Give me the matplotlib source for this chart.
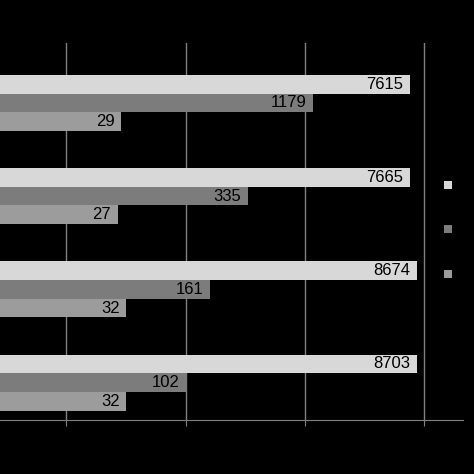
import numpy as np
import matplotlib
matplotlib.use('Agg')
import matplotlib.pyplot as plt

categories = ['A', 'B', 'C', 'D']
series_names = ['Series 1', 'Series 2', 'Series 3']
series1 = [7615, 7665, 8674, 8703]
series2 = [1179, 335, 161, 102]
series3 = [29, 27, 32, 32]
colors = ['#d8d8d8', '#7c7c7c', '#9c9c9c']

plt.rcParams['font.family'] = ['Liberation Sans', 'DejaVu Sans']

fig = plt.figure(figsize=(4.74, 4.74), dpi=100, facecolor='black')
# plot area runs off the left edge, as in the cropped original
ax = fig.add_axes([-0.112, 0.114, 1.089, 0.795], facecolor='black')

y = np.arange(len(categories))
h = 0.2
bars = []
for i, (vals, c, name) in enumerate(zip([series1, series2, series3], colors, series_names)):
    b = ax.barh(y - h + i * h, vals, height=h, color=c, label=name, zorder=2)
    bars.append(b)
    for yy, v in zip(y - h + i * h, vals):
        ax.annotate(str(v), (v, yy), xytext=(-5, 0), textcoords='offset points',
                    ha='right', va='center', fontsize=12, color='black', zorder=3)

ax.set_xscale('log')
ax.set_xlim(1, 10 ** 4.327)
ax.set_ylim(3.4, -0.64)
ax.set_yticks(y)
ax.set_yticklabels(categories)
ax.xaxis.set_major_locator(matplotlib.ticker.LogLocator(base=10, numticks=10))
ax.xaxis.set_minor_locator(matplotlib.ticker.NullLocator())
ax.xaxis.set_major_formatter(matplotlib.ticker.FuncFormatter(lambda v, p: f'{v:g}'))
# labels are black on black in the original
ax.tick_params(axis='x', direction='out', length=4, color='#808080',
               labelcolor='black', labelsize=9)
ax.tick_params(axis='y', left=False, labelcolor='black')
ax.grid(True, axis='x', color='#808080', linewidth=1, zorder=0)
for s in ['top', 'right', 'left']:
    ax.spines[s].set_visible(False)
ax.spines['bottom'].set_color('#808080')

fig.legend(handles=bars, labels=series_names, loc='upper left',
           bbox_to_anchor=(0.916, 0.64), frameon=False, fontsize=8,
           labelcolor='black', handlelength=0.7, handleheight=0.7,
           labelspacing=3.1, handletextpad=0.5)

fig.savefig('out.png', dpi=100, facecolor='black')
